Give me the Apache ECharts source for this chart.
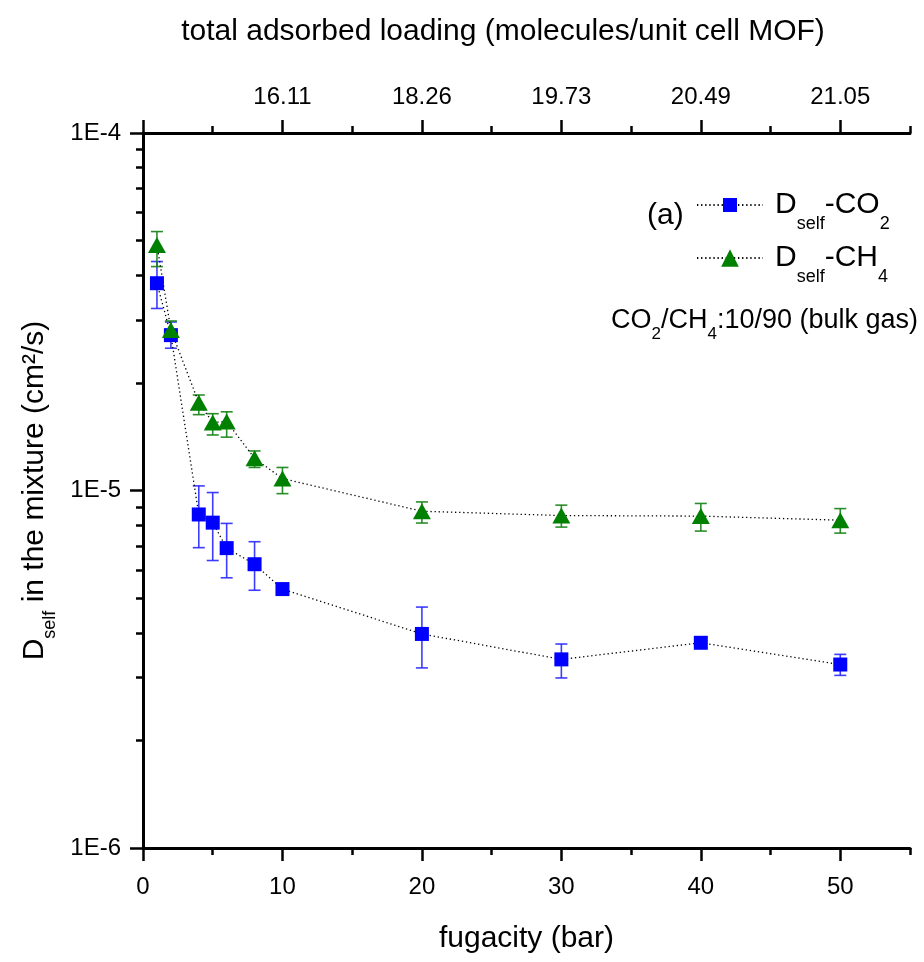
<!DOCTYPE html>
<html>
<head>
<meta charset="utf-8">
<script src="https://cdn.jsdelivr.net/npm/echarts@6/dist/echarts.min.js"></script>
<style>html,body{margin:0;padding:0;background:#fff}#c{width:924px;height:962px}</style>
</head>
<body>
<div id="c"></div>
<script>
// ---- data ----
const pressure = [1, 2, 4, 5, 6, 8, 10, 20, 30, 40, 50];
const co2 = [3.80e-5, 2.72e-5, 8.57e-6, 8.13e-6, 6.90e-6, 6.22e-6, 5.30e-6, 3.97e-6, 3.37e-6, 3.75e-6, 3.26e-6];
const co2Low = [3.23e-5, 2.50e-5, 6.92e-6, 6.37e-6, 5.70e-6, 5.26e-6, 5.30e-6, 3.19e-6, 2.99e-6, 3.75e-6, 3.04e-6];
const co2High = [4.37e-5, 2.96e-5, 1.03e-5, 9.87e-6, 8.09e-6, 7.19e-6, 5.30e-6, 4.72e-6, 3.72e-6, 3.75e-6, 3.48e-6];
const ch4 = [4.86e-5, 2.81e-5, 1.76e-5, 1.55e-5, 1.56e-5, 1.23e-5, 1.08e-5, 8.75e-6, 8.51e-6, 8.48e-6, 8.26e-6];
const ch4Low = [4.23e-5, 2.67e-5, 1.63e-5, 1.43e-5, 1.41e-5, 1.16e-5, 9.8e-6, 8.11e-6, 7.9e-6, 7.7e-6, 7.6e-6];
const ch4High = [5.30e-5, 2.98e-5, 1.85e-5, 1.64e-5, 1.66e-5, 1.29e-5, 1.16e-5, 9.29e-6, 9.1e-6, 9.2e-6, 8.9e-6];

const xMajorTicks = [0, 10, 20, 30, 40, 50];
const xMinorTicks = [5, 15, 25, 35, 45, 55];
const topMajorTicks = [0, 10, 20, 30, 40, 50];
const topTickLabels = ['', '16.11', '18.26', '19.73', '20.49', '21.05'];
const yMajorTicks = [1e-6, 1e-5, 1e-4];
const yTickLabels = ['1E-6', '1E-5', '1E-4'];
const yMinorTicks = [2e-6, 3e-6, 4e-6, 5e-6, 6e-6, 7e-6, 8e-6, 9e-6, 2e-5, 3e-5, 4e-5, 5e-5, 6e-5, 7e-5, 8e-5, 9e-5];

// ---- chart ----
const FONT = "'Liberation Sans', Arial, sans-serif";
const pair = (xs, ys) => xs.map((x, i) => [x, ys[i]]);
const triple = (xs, lo, hi) => xs.map((x, i) => [x, lo[i], hi[i]]);

function errRender(color) {
  return function (params, api) {
    const x = api.value(0), lo = api.value(1), hi = api.value(2);
    if (lo === hi) return null;
    const a = api.coord([x, hi]), b = api.coord([x, lo]);
    const w = 6;
    const st = { stroke: color, lineWidth: 1.6 };
    return {
      type: 'group',
      children: [
        { type: 'line', shape: { x1: a[0], y1: a[1], x2: b[0], y2: b[1] }, style: st },
        { type: 'line', shape: { x1: a[0] - w, y1: a[1], x2: a[0] + w, y2: a[1] }, style: st },
        { type: 'line', shape: { x1: b[0] - w, y1: b[1], x2: b[0] + w, y2: b[1] }, style: st }
      ]
    };
  };
}

const labelFor = (vals, labels) => v => {
  for (let i = 0; i < vals.length; i++) {
    if (v === vals[i] || Math.abs(Math.log10(Math.abs(v) || 1e-30) - Math.log10(Math.abs(vals[i]) || 1e-30)) < 1e-6) return labels[i];
  }
  return '';
};

const axisLineStyle = { color: '#000', width: 3 };
const tickStyle = { color: '#000', width: 2.5 };
const gridRect = { left: 143, right: 14, top: 133, bottom: 114 };

const subRich = (size, sub, pad) => ({
  m: { fontSize: size, fontFamily: FONT, color: '#000' },
  d: { fontSize: size, fontFamily: FONT, color: '#000', padding: [0, 0, 0, 7] },
  s: { fontSize: sub, fontFamily: FONT, color: '#000', padding: [pad, 0, 0, 0] }
});

const legendText = {
  CO2: '{d|D}{s|self}{m|-CO}{s|2}',
  CH4: '{d|D}{s|self}{m|-CH}{s|4}'
};

const option = {
  animation: false,
  backgroundColor: '#fff',
  textStyle: { fontFamily: FONT, color: '#000' },
  grid: [Object.assign({}, gridRect), Object.assign({}, gridRect)],
  title: [
    { text: '(a)', left: 647, top: 201, padding: 0,
      textStyle: { fontSize: 30, fontWeight: 'normal', fontFamily: FONT, color: '#000' } },
    { text: '{m|CO}{s|2}{m|/CH}{s|4}{m|:10/90 (bulk gas)}', right: 6, top: 299, padding: 0,
      textStyle: { fontSize: 27, fontWeight: 'normal', fontFamily: FONT, color: '#000', rich: subRich(27, 17, 27) } }
  ],
  legend: [
    { data: ['CO2'], orient: 'vertical', left: 696, top: 190, padding: 0, itemWidth: 66, itemHeight: 17.5,
      selectedMode: false, formatter: n => legendText[n],
      textStyle: { fontSize: 30, color: '#000', rich: subRich(30, 18, 38) } },
    { data: ['CH4'], orient: 'vertical', left: 696, top: 243, padding: 0, itemWidth: 66, itemHeight: 22,
      selectedMode: false, formatter: n => legendText[n],
      textStyle: { fontSize: 30, color: '#000', rich: subRich(30, 18, 38) } }
  ],
  xAxis: [
    { gridIndex: 0, type: 'value', position: 'bottom', min: 0, max: 55, interval: 5,
      axisLine: { show: true, onZero: false, lineStyle: axisLineStyle },
      axisTick: { show: true, customValues: xMajorTicks, length: 13, lineStyle: tickStyle },
      axisLabel: { show: true, customValues: xMajorTicks, margin: 27, fontSize: 24, color: '#000', fontFamily: FONT },
      splitLine: { show: false },
      name: 'fugacity (bar)', nameLocation: 'middle', nameGap: 76,
      nameTextStyle: { fontSize: 30, color: '#000', fontFamily: FONT } },
    { gridIndex: 0, type: 'value', position: 'top', min: 0, max: 55, interval: 5,
      axisLine: { show: true, onZero: false, lineStyle: axisLineStyle },
      axisTick: { show: true, customValues: topMajorTicks, length: 13, lineStyle: tickStyle },
      axisLabel: { show: true, customValues: topMajorTicks, margin: 24, fontSize: 24, color: '#000', fontFamily: FONT,
        formatter: labelFor(topMajorTicks, topTickLabels) },
      splitLine: { show: false },
      name: 'total adsorbed loading (molecules/unit cell MOF)', nameLocation: 'middle', nameGap: 86,
      nameTextStyle: { fontSize: 30, color: '#000', fontFamily: FONT, padding: [0, 47, 0, 0] } },
    { gridIndex: 1, type: 'value', position: 'bottom', min: 0, max: 55, interval: 5,
      axisLine: { show: false, onZero: false },
      axisTick: { show: true, customValues: xMinorTicks, length: 7, lineStyle: tickStyle },
      axisLabel: { show: false }, splitLine: { show: false } },
    { gridIndex: 1, type: 'value', position: 'top', min: 0, max: 55, interval: 5,
      axisLine: { show: false, onZero: false },
      axisTick: { show: true, customValues: xMinorTicks, length: 7, lineStyle: tickStyle },
      axisLabel: { show: false }, splitLine: { show: false } }
  ],
  yAxis: [
    { gridIndex: 0, type: 'log', logBase: 10, min: 1e-6, max: 1e-4, position: 'left',
      axisLine: { show: true, onZero: false, lineStyle: axisLineStyle },
      axisTick: { show: true, customValues: yMajorTicks, length: 13, lineStyle: tickStyle },
      axisLabel: { show: true, customValues: yMajorTicks, margin: 22, fontSize: 24, color: '#000', fontFamily: FONT,
        formatter: labelFor(yMajorTicks, yTickLabels) },
      splitLine: { show: false },
      name: '{m|D}{s|self}{m| in the mixture (cm²/s)}', nameLocation: 'middle', nameRotate: 90, nameGap: 80,
      nameTextStyle: { fontSize: 30, color: '#000', fontFamily: FONT, rich: subRich(30, 18, 32) } },
    { gridIndex: 1, type: 'log', logBase: 10, min: 1e-6, max: 1e-4, position: 'left',
      axisLine: { show: false, onZero: false },
      axisTick: { show: true, customValues: yMinorTicks, length: 7, lineStyle: tickStyle },
      axisLabel: { show: false }, splitLine: { show: false } }
  ],
  series: [
    { name: 'CO2err', type: 'custom', xAxisIndex: 0, yAxisIndex: 0, z: 2,
      renderItem: errRender('rgba(40,40,255,0.9)'), encode: { x: 0, y: [1, 2] },
      data: triple(pressure, co2Low, co2High) },
    { name: 'CH4err', type: 'custom', xAxisIndex: 0, yAxisIndex: 0, z: 2,
      renderItem: errRender('rgba(20,130,20,0.9)'), encode: { x: 0, y: [1, 2] },
      data: triple(pressure, ch4Low, ch4High) },
    { name: 'CO2', type: 'line', xAxisIndex: 0, yAxisIndex: 0, z: 3,
      symbol: 'rect', symbolSize: 14,
      itemStyle: { color: '#0000ff' },
      lineStyle: { color: '#000', width: 1.3, type: [1.3, 2.8] },
      data: pair(pressure, co2) },
    { name: 'CH4', type: 'line', xAxisIndex: 0, yAxisIndex: 0, z: 3,
      symbol: 'triangle', symbolSize: [18, 16],
      itemStyle: { color: '#008000' },
      lineStyle: { color: '#000', width: 1.3, type: [1.3, 2.8] },
      data: pair(pressure, ch4) }
  ]
};

const chart = echarts.init(document.getElementById('c'), null, { renderer: 'canvas' });
chart.setOption(option);
</script>
</body>
</html>
